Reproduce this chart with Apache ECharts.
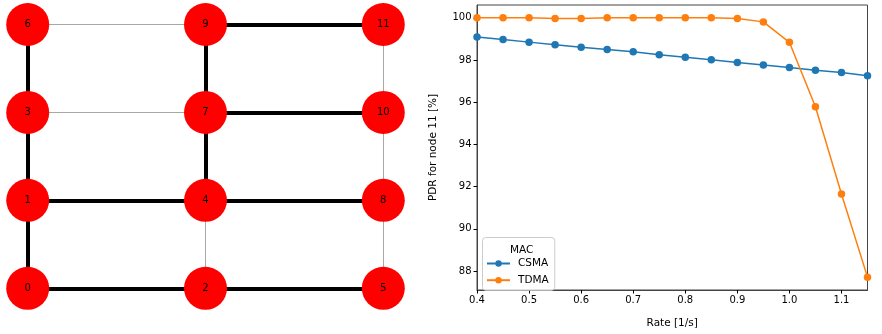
<!DOCTYPE html>
<html>
<head>
<meta charset="utf-8">
<title>PDR vs Rate</title>
<script src="https://cdn.jsdelivr.net/npm/echarts@6/dist/echarts.min.js"></script>
<style>
  html, body { margin: 0; padding: 0; background: #fff; }
  #chart { width: 882px; height: 334px; }
</style>
</head>
<body>
<div id="chart"></div>
<script>
// Packet rate sweep (x axis of the line plot)
const rates = [0.4, 0.45, 0.5, 0.55, 0.6, 0.65, 0.7, 0.75, 0.8, 0.85, 0.9, 0.95, 1.0, 1.05, 1.1, 1.15];
// PDR for node 11 [%]
const csmaPdr = [99.09, 98.98, 98.85, 98.73, 98.61, 98.50, 98.39, 98.25, 98.13, 98.02, 97.89, 97.77, 97.65, 97.52, 97.41, 97.26];
const tdmaPdr = [100.0, 100.0, 100.0, 99.97, 99.97, 100.0, 100.0, 100.0, 100.0, 100.0, 99.97, 99.81, 98.84, 95.79, 91.65, 87.71];
const seriesNames = ['CSMA', 'TDMA'];
const xTicks = [0.4, 0.5, 0.6, 0.7, 0.8, 0.9, 1.0, 1.1];
const yTicks = [88, 90, 92, 94, 96, 98, 100];

// Grid network: node id and its [column, row]
const nodeIds = ['0', '1', '2', '3', '4', '5', '6', '7', '8', '9', '10', '11'];
const nodeCols = [0, 0, 1, 0, 1, 2, 0, 1, 2, 1, 2, 2];
const nodeRows = [0, 1, 0, 2, 1, 0, 3, 2, 1, 3, 2, 3];
// Links that are not on the routing tree
const plainEdges = [['6', '9'], ['3', '7'], ['11', '10'], ['10', '8'], ['8', '5'], ['4', '2']];
// Routing tree links
const treeEdges = [['6', '3'], ['3', '1'], ['1', '0'], ['0', '2'], ['2', '5'], ['1', '4'], ['4', '8'], ['4', '7'], ['7', '9'], ['9', '11'], ['7', '10']];

const font = 'DejaVu Sans';
const colors = ['#1f77b4', '#ff7f0e'];

const graphNodes = nodeIds.map((id, i) => ({ name: id, value: [nodeCols[i], nodeRows[i]] }));
const graphLinks = []
  .concat(plainEdges.map(e => ({ source: e[0], target: e[1], lineStyle: { width: 1, color: '#a8a8a8', opacity: 1 } })))
  .concat(treeEdges.map(e => ({ source: e[0], target: e[1], lineStyle: { width: 4, color: '#000000', opacity: 1 } })));

const chart = echarts.init(document.getElementById('chart'), null, { renderer: 'canvas' });

chart.setOption({
  animation: false,
  backgroundColor: '#ffffff',
  color: colors,
  title: {
    text: 'MAC',
    left: 505,
    top: 240,
    textStyle: { fontFamily: font, fontSize: 10.5, fontWeight: 'normal', color: '#000' }
  },
  legend: {
    data: seriesNames,
    orient: 'vertical',
    left: 482.5,
    top: 237.5,
    padding: [19, 6, 3, 3.5],
    itemGap: 2.7,
    itemWidth: 23,
    itemHeight: 8,
    backgroundColor: 'rgba(255,255,255,0.8)',
    borderColor: '#cccccc',
    borderWidth: 1,
    borderRadius: 3,
    textStyle: { fontFamily: font, fontSize: 10.5, color: '#000', lineHeight: 14, padding: [0, 0, 0, 3] }
  },
  grid: [
    {
      left: 477, right: 14.5, top: 5, bottom: 39,
      show: true, borderColor: '#444', borderWidth: 1, backgroundColor: 'transparent'
    },
    { left: 27.7, width: 355.6, top: 24.5, height: 263.8, show: false }
  ],
  xAxis: [
    {
      gridIndex: 0,
      type: 'value',
      min: 0.4, max: 1.15,
      name: 'Rate [1/s]',
      nameLocation: 'middle',
      nameGap: 28,
      nameTextStyle: { fontFamily: font, fontSize: 10.5, color: '#000' },
      axisLine: { show: true, onZero: false, lineStyle: { color: '#444', width: 1 } },
      axisTick: { show: true, length: 3.5, inside: false, customValues: xTicks, lineStyle: { color: '#000', width: 1 } },
      axisLabel: {
        customValues: xTicks, margin: 5.5,
        fontFamily: font, fontSize: 10, color: '#000',
        formatter: v => v.toFixed(1)
      },
      splitLine: { show: false }
    },
    { gridIndex: 1, type: 'value', min: 0, max: 2, show: false }
  ],
  yAxis: [
    {
      gridIndex: 0,
      type: 'value',
      min: 87.1, max: 100.61,
      name: 'PDR for node 11 [%]',
      nameLocation: 'middle',
      nameRotate: 90,
      nameGap: 38,
      nameTextStyle: { fontFamily: font, fontSize: 10.5, color: '#000' },
      axisLine: { show: true, onZero: false, lineStyle: { color: '#444', width: 1 } },
      axisTick: { show: true, length: 3.5, inside: false, customValues: yTicks, lineStyle: { color: '#000', width: 1 } },
      axisLabel: {
        customValues: yTicks, margin: 5.5,
        fontFamily: font, fontSize: 10, color: '#000',
        formatter: v => String(Math.round(v))
      },
      splitLine: { show: false }
    },
    { gridIndex: 1, type: 'value', min: 0, max: 3, show: false }
  ],
  series: [
    {
      name: seriesNames[0],
      type: 'line',
      xAxisIndex: 0, yAxisIndex: 0,
      data: rates.map((r, i) => [r, csmaPdr[i]]),
      symbol: 'circle',
      symbolSize: 7.5,
      lineStyle: { width: 1.5 },
      itemStyle: { color: colors[0] },
      clip: true
    },
    {
      name: seriesNames[1],
      type: 'line',
      xAxisIndex: 0, yAxisIndex: 0,
      data: rates.map((r, i) => [r, tdmaPdr[i]]),
      symbol: 'circle',
      symbolSize: 7.5,
      lineStyle: { width: 1.5 },
      itemStyle: { color: colors[1] },
      clip: true
    },
    {
      type: 'graph',
      coordinateSystem: 'cartesian2d',
      xAxisIndex: 1, yAxisIndex: 1,
      layout: 'none',
      symbol: 'circle',
      symbolSize: 43,
      itemStyle: { color: '#ff0000', opacity: 1 },
      lineStyle: { opacity: 1 },
      label: { show: true, position: 'inside', formatter: '{b}', fontFamily: font, fontSize: 10, color: '#000' },
      data: graphNodes,
      links: graphLinks,
      emphasis: { disabled: true },
      silent: true
    }
  ]
});
</script>
</body>
</html>
